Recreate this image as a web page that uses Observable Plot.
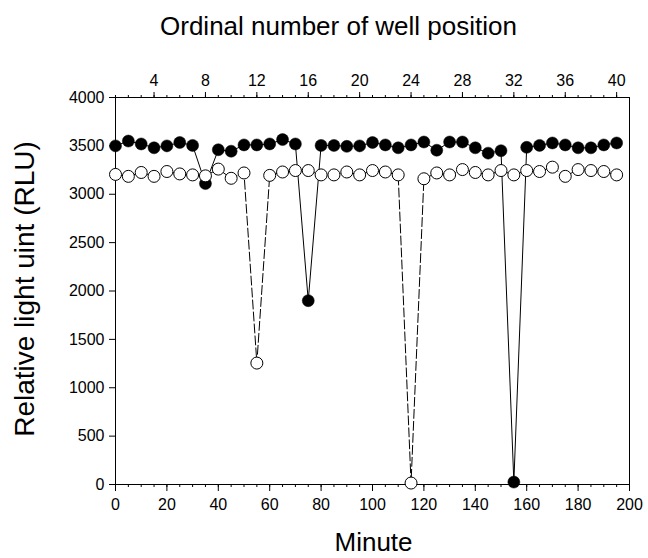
<!DOCTYPE html>
<html>
<head>
<meta charset="utf-8">
<script src="https://cdn.jsdelivr.net/npm/d3@7"></script>
<script src="https://cdn.jsdelivr.net/npm/@observablehq/plot@0.6"></script>
<style>
  html, body { margin: 0; padding: 0; background: #fff; }
  #chart svg { display: block; }
</style>
</head>
<body>
<div id="chart"></div>
<script>
// Minutes at which each of the 40 wells was measured (well n at minute 5*(n-1))
const minutes = [0,5,10,15,20,25,30,35,40,45,50,55,60,65,70,75,80,85,90,95,
                 100,105,110,115,120,125,130,135,140,145,150,155,160,165,170,175,180,185,190,195];
// Filled-circle series (solid line)
const filledRLU = [3500,3550,3520,3480,3500,3535,3505,3110,3460,3445,3510,3510,3520,3565,3520,1900,3505,3505,3495,3500,
                   3535,3510,3480,3510,3540,3455,3540,3540,3480,3425,3450,25,3485,3505,3530,3510,3480,3480,3510,3530];
// Open-circle series (dashed line)
const openRLU = [3205,3185,3225,3185,3235,3210,3200,3190,3260,3165,3220,1255,3195,3230,3245,3245,3200,3200,3230,3200,
                 3245,3230,3200,15,3160,3220,3200,3255,3225,3200,3245,3200,3245,3235,3280,3185,3255,3245,3235,3200];
// Axis ticks
const xMajorTicks = [0,20,40,60,80,100,120,140,160,180,200];
const xMinorTicks = d3.range(0, 201, 5);
const yTicks = [0,500,1000,1500,2000,2500,3000,3500,4000];
const wellNumbers = d3.range(1, 41);
const wellLabels = [4,8,12,16,20,24,28,32,36,40];

const wellToMinute = w => (w - 1) * 5;
const filled = minutes.map((m, i) => ({minute: m, rlu: filledRLU[i]}));
const open = minutes.map((m, i) => ({minute: m, rlu: openRLU[i]}));

const FONT = "'Liberation Sans', Arial, Helvetica, sans-serif";

const chart = Plot.plot({
  width: 648,
  height: 558,
  marginTop: 97,
  marginLeft: 115,
  marginRight: 19,
  marginBottom: 74,
  style: {fontFamily: FONT, fontSize: "16px", color: "black", background: "white", overflow: "visible"},
  x: {domain: [0, 200]},
  y: {domain: [0, 4000]},
  marks: [
    // bottom axis
    Plot.axisX({anchor: "bottom", ticks: xMajorTicks, tickSize: 7, tickPadding: 7, fontSize: 16, label: null, tickFormat: d => String(d)}),
    Plot.axisX({anchor: "bottom", ticks: xMinorTicks, tickSize: 3, fill: "none", label: null}),
    // top axis: well positions
    Plot.axisX({anchor: "top", ticks: wellLabels.map(wellToMinute), tickSize: 6, tickPadding: 6, fontSize: 16, label: null,
                tickFormat: m => String(m / 5 + 1)}),
    Plot.axisX({anchor: "top", ticks: wellNumbers.map(wellToMinute), tickSize: 3, fill: "none", label: null}),
    // left axis
    Plot.axisY({anchor: "left", ticks: yTicks, tickSize: 6, tickPadding: 5, fontSize: 16, label: null, tickFormat: d => String(d)}),
    Plot.frame({stroke: "black", strokeWidth: 1}),
    // filled series
    Plot.line(filled, {x: "minute", y: "rlu", stroke: "black", strokeWidth: 1}),
    Plot.dot(filled, {x: "minute", y: "rlu", r: 6, fill: "black", stroke: "black", strokeWidth: 0.5}),
    // open series
    Plot.line(open, {x: "minute", y: "rlu", stroke: "black", strokeWidth: 1, strokeDasharray: "9,3"}),
    Plot.dot(open, {x: "minute", y: "rlu", r: 6, fill: "white", stroke: "black", strokeWidth: 1}),
    // axis titles
    Plot.text(["Ordinal number of well position"], {frameAnchor: "top", dx: -34, dy: -71, lineAnchor: "middle",
                fontSize: 26, fill: "black", text: d => d}),
    Plot.text(["Minute"], {frameAnchor: "bottom", dx: 1, dy: 58, lineAnchor: "middle",
                fontSize: 26, fill: "black", text: d => d}),
    Plot.text(["Relative light uint (RLU)"], {frameAnchor: "left", dx: -90, dy: -2, rotate: -90, lineAnchor: "middle",
                textAnchor: "middle", fontSize: 28, fill: "black", text: d => d})
  ]
});
document.getElementById("chart").appendChild(chart);
</script>
</body>
</html>
